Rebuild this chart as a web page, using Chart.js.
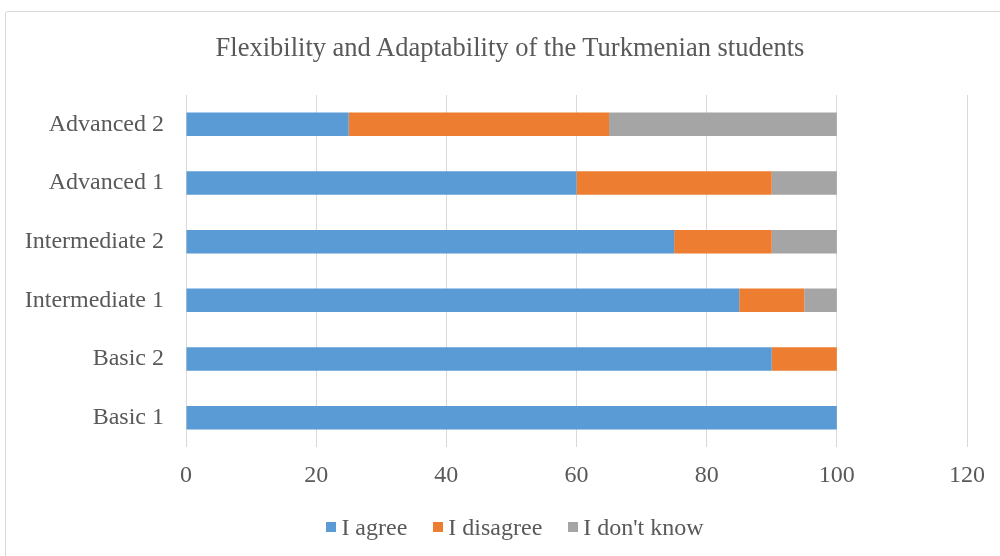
<!DOCTYPE html>
<html>
<head>
<meta charset="utf-8">
<script src="https://cdn.jsdelivr.net/npm/chart.js@4"></script>
<style>
  body { margin: 0; background: #fff; overflow: hidden; }
  #frame { position: absolute; left: 5px; top: 11px; width: 1030px; height: 560px;
           border: 1px solid #d9d9d9; border-radius: 3px; box-sizing: border-box; }
  #wrap { position: absolute; left: 0; top: 0; width: 1000px; height: 556px; }
  #titulo { position: absolute; left: 20px; width: 980px; top: 31px; height: 32px; line-height: 32px;
            text-align: center; white-space: nowrap;
            font-family: 'Liberation Serif', 'Times New Roman', serif; font-size: 26.5px; color: #595959; }
  #legenda { position: absolute; left: 15px; width: 1000px; top: 510px; height: 34px;
             display: flex; justify-content: center; align-items: center;
             font-family: 'Liberation Serif', 'Times New Roman', serif; font-size: 24px; color: #595959; }
  #legenda .item { display: flex; align-items: center; margin: 0 13px; }
  #legenda .caixa { width: 10px; height: 10px; margin-right: 5px; }
</style>
</head>
<body>
<div id="frame"></div>
<div id="wrap"><canvas id="grafico" width="1000" height="556"></canvas></div>
<div id="titulo"></div>
<div id="legenda"></div>
<script>
// Níveis (de cima para baixo)
const niveis = ['Advanced 2', 'Advanced 1', 'Intermediate 2', 'Intermediate 1', 'Basic 2', 'Basic 1'];
const concordo = [25, 60, 75, 85, 90, 100];
const discordo = [40, 30, 15, 10, 10, 0];
const naoSei = [35, 10, 10, 5, 0, 0];
const ticksX = [0, 20, 40, 60, 80, 100, 120];
const tituloTexto = 'Flexibility and Adaptability of the Turkmenian students';

const fonte = 'Liberation Serif, Times New Roman, serif';
const cinzaTexto = '#595959';

document.getElementById('titulo').textContent = tituloTexto;

const ctx = document.getElementById('grafico').getContext('2d');
const grafico = new Chart(ctx, {
  type: 'bar',
  data: {
    labels: niveis,
    datasets: [
      { label: 'I agree', data: concordo, backgroundColor: '#5B9BD5' },
      { label: 'I disagree', data: discordo, backgroundColor: '#ED7D31' },
      { label: "I don't know", data: naoSei, backgroundColor: '#A5A5A5' }
    ]
  },
  options: {
    indexAxis: 'y',
    responsive: false,
    animation: false,
    layout: { padding: { left: 0, right: 33, top: 95, bottom: 0 } },
    datasets: { bar: { categoryPercentage: 1, barPercentage: 0.4 } },
    scales: {
      x: {
        stacked: true,
        min: 0,
        max: ticksX[ticksX.length - 1],
        afterBuildTicks: function(scale) {
          scale.ticks = ticksX.map(v => ({ value: v }));
        },
        afterFit: function(scale) { scale.height = 109; },
        border: { display: false },
        grid: { color: '#d9d9d9', lineWidth: 1, drawTicks: false },
        ticks: { color: cinzaTexto, font: { family: fonte, size: 24 }, padding: 14 }
      },
      y: {
        stacked: true,
        border: { display: false },
        grid: { display: false, drawTicks: false },
        ticks: { color: cinzaTexto, font: { family: fonte, size: 24 }, padding: 22 },
        afterFit: function(scale) { scale.width = 186; }
      }
    },
    plugins: {
      title: { display: false },
      legend: { display: false },
      tooltip: { enabled: false }
    }
  }
});

// Legenda em HTML, com as cores dos datasets
const legenda = document.getElementById('legenda');
grafico.data.datasets.forEach(function(ds) {
  const item = document.createElement('div');
  item.className = 'item';
  const caixa = document.createElement('span');
  caixa.className = 'caixa';
  caixa.style.background = ds.backgroundColor;
  item.appendChild(caixa);
  item.appendChild(document.createTextNode(ds.label));
  legenda.appendChild(item);
});
</script>
</body>
</html>
